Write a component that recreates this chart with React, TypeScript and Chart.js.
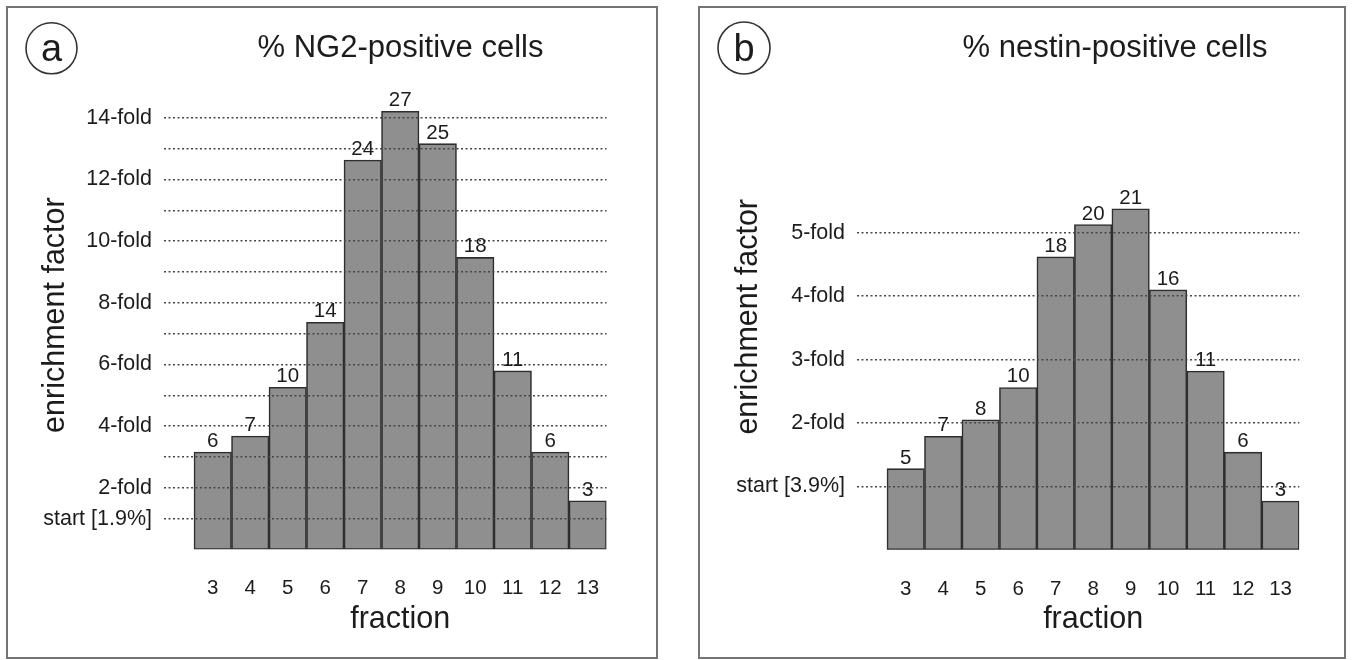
import React, { useEffect, useRef } from "react";
import { Chart, registerables } from "chart.js";

Chart.register(...registerables);

const FONT = "'Liberation Sans', Arial, Helvetica, sans-serif";
Chart.defaults.font.family = FONT;

// ---------- data ----------
const fractions = [3, 4, 5, 6, 7, 8, 9, 10, 11, 12, 13];

// panel a: % NG2-positive cells (label above each bar) and the enrichment factor (bar height)
const ng2Percent = [6, 7, 10, 14, 24, 27, 25, 18, 11, 6, 3];
const ng2Fold = [3.16, 3.68, 5.26, 7.37, 12.63, 14.21, 13.16, 9.47, 5.79, 3.16, 1.58];
const ng2GridFolds = [1, 2, 3, 4, 5, 6, 7, 8, 9, 10, 11, 12, 13, 14];
const ng2TickFolds = [1, 2, 4, 6, 8, 10, 12, 14];
const ng2TickLabels = ["start [1.9%]", "2-fold", "4-fold", "6-fold", "8-fold", "10-fold", "12-fold", "14-fold"];

// panel b: % nestin-positive cells
const nestinPercent = [5, 7, 8, 10, 18, 20, 21, 16, 11, 6, 3];
const nestinFold = [1.28, 1.79, 2.05, 2.56, 4.62, 5.13, 5.38, 4.1, 2.82, 1.54, 0.77];
const nestinGridFolds = [1, 2, 3, 4, 5];
const nestinTickFolds = [1, 2, 3, 4, 5];
const nestinTickLabels = ["start [3.9%]", "2-fold", "3-fold", "4-fold", "5-fold"];

const TEXT = "#1c1c1c";
const BAR_FILL = "#8f8f8f";
const BAR_EDGE = "#2e2e2e";
const GRID = "#474747";

type Box = { left: number; top: number; width: number; height: number };
type Area = { left: number; top: number; right: number; bottom: number };

type PanelProps = {
  letter: string;
  title: string;
  percent: number[];
  fold: number[];
  gridFolds: number[];
  tickFolds: number[];
  tickLabels: string[];
  yMax: number;
  frame: Box;
  cv: Box;
  area: Area;
  titleX: number;
  circle: { x: number; y: number; r: number };
  yTitlePad: number;
};

const X_AXIS_H = 60;

function Panel(p: PanelProps) {
  const ref = useRef<HTMLCanvasElement | null>(null);

  useEffect(() => {
    const canvas = ref.current;
    if (!canvas) return;
    const { cv, area } = p;
    const padding = {
      left: 0,
      top: area.top - cv.top,
      right: cv.left + cv.width - area.right,
      bottom: cv.top + cv.height - area.bottom - X_AXIS_H,
    };
    const yAxisW = area.left - cv.left;

    const overlay = {
      id: "overlay",
      afterDraw(chart: any) {
        const ctx = chart.ctx as CanvasRenderingContext2D;
        const meta = chart.getDatasetMeta(0);
        const xs = chart.scales.x;
        ctx.save();
        ctx.fillStyle = TEXT;
        ctx.textAlign = "center";
        ctx.textBaseline = "alphabetic";
        ctx.font = `20.5px ${FONT}`;
        meta.data.forEach((bar: any, i: number) => {
          ctx.fillText(String(p.percent[i]), bar.x, bar.y - 5);
        });
        // x-axis title centred on the bars
        const first = fractions[0];
        const last = fractions[fractions.length - 1];
        const cx = (xs.getPixelForValue(first - 0.5) + xs.getPixelForValue(last + 0.5)) / 2;
        ctx.font = `30.5px ${FONT}`;
        ctx.fillText("fraction", cx, 628 - cv.top);
        // panel title
        ctx.font = `31px ${FONT}`;
        ctx.fillText(p.title, p.titleX - cv.left, 57 - cv.top);
        // circled letter
        ctx.beginPath();
        ctx.arc(p.circle.x - cv.left, p.circle.y - cv.top, p.circle.r, 0, Math.PI * 2);
        ctx.lineWidth = 1.6;
        ctx.strokeStyle = "#333";
        ctx.stroke();
        ctx.font = `38px ${FONT}`;
        ctx.fillText(p.letter, p.circle.x - cv.left, 61 - cv.top);
        ctx.restore();
      },
    };

    const chart = new Chart(canvas, {
      type: "bar",
      data: {
        datasets: [
          {
            data: fractions.map((f, i) => ({ x: f, y: p.fold[i] })),
            backgroundColor: BAR_FILL,
            borderColor: BAR_EDGE,
            borderWidth: 1.6,
            borderSkipped: false,
            barPercentage: 1,
            categoryPercentage: 1,
          },
        ],
      },
      options: {
        responsive: false,
        animation: false,
        devicePixelRatio: 1,
        layout: { padding },
        plugins: {
          legend: { display: false },
          tooltip: { enabled: false },
          title: { display: false },
        },
        scales: {
          x: {
            type: "linear",
            offset: false,
            min: fractions[0] - 1.3,
            max: fractions[fractions.length - 1] + 0.5,
            grid: { display: false, offset: false },
            border: { display: false },
            afterBuildTicks: (scale: any) => {
              scale.ticks = fractions.map((v) => ({ value: v }));
            },
            afterFit: (scale: any) => {
              scale.height = X_AXIS_H;
            },
            ticks: {
              autoSkip: false,
              maxRotation: 0,
              padding: 19,
              color: TEXT,
              font: { size: 20.5, family: FONT },
              callback: (v: any) => String(v),
            },
          },
          y: {
            type: "linear",
            min: 0,
            max: p.yMax,
            grid: {
              color: GRID,
              lineWidth: 1.4,
              drawTicks: false,
              z: 1,
            },
            border: { display: false, dash: [2, 2.5] },
            afterBuildTicks: (scale: any) => {
              scale.ticks = p.gridFolds.map((v) => ({ value: v }));
            },
            afterFit: (scale: any) => {
              scale.width = yAxisW;
            },
            ticks: {
              autoSkip: false,
              padding: 12,
              color: TEXT,
              font: { size: 21.5, family: FONT },
              callback: (v: any) => {
                const k = p.tickFolds.indexOf(Number(v));
                return k >= 0 ? p.tickLabels[k] : "";
              },
            },
            title: {
              display: true,
              text: "enrichment factor",
              color: TEXT,
              font: { size: 30.5, family: FONT, weight: "normal" },
              padding: { top: p.yTitlePad, bottom: 0 },
            },
          },
        },
      },
      plugins: [overlay],
    } as any);

    return () => chart.destroy();
  }, []);

  const { frame, cv } = p;
  return (
    <>
      <div
        style={{
          position: "absolute",
          left: frame.left,
          top: frame.top,
          width: frame.width,
          height: frame.height,
          boxSizing: "border-box",
          border: "2px solid #747474",
          background: "#fff",
        }}
      />
      <canvas
        ref={ref}
        width={cv.width}
        height={cv.height}
        style={{ position: "absolute", left: cv.left, top: cv.top, width: cv.width, height: cv.height }}
      />
    </>
  );
}

export default function App() {
  return (
    <div style={{ position: "absolute", left: 0, top: 0, width: 1353, height: 660, background: "#fff", overflow: "hidden" }}>
      <Panel
        letter="a"
        title="% NG2-positive cells"
        percent={ng2Percent}
        fold={ng2Fold}
        gridFolds={ng2GridFolds}
        tickFolds={ng2TickFolds}
        tickLabels={ng2TickLabels}
        yMax={15.2}
        frame={{ left: 6, top: 6, width: 652, height: 653 }}
        cv={{ left: 9, top: 9, width: 646, height: 647 }}
        area={{ left: 164, top: 549.5 - 15.2 * 30.84, right: 606.5, bottom: 549.5 }}
        titleX={400.5}
        circle={{ x: 51.5, y: 48.3, r: 25.5 }}
        yTitlePad={28}
      />
      <Panel
        letter="b"
        title="% nestin-positive cells"
        percent={nestinPercent}
        fold={nestinFold}
        gridFolds={nestinGridFolds}
        tickFolds={nestinTickFolds}
        tickLabels={nestinTickLabels}
        yMax={7.35}
        frame={{ left: 698, top: 6, width: 648, height: 653 }}
        cv={{ left: 701, top: 9, width: 642, height: 647 }}
        area={{ left: 857, top: 549.8 - 7.35 * 63.4, right: 1299.3, bottom: 549.8 }}
        titleX={1115}
        circle={{ x: 744, y: 48, r: 26 }}
        yTitlePad={29}
      />
    </div>
  );
}
